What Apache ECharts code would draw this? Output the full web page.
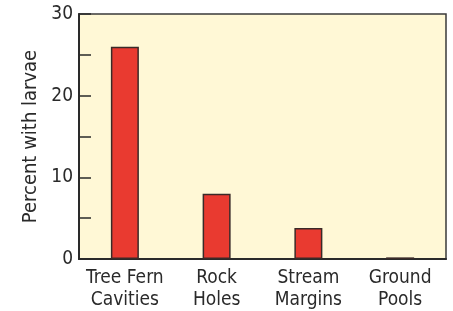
<!DOCTYPE html>
<html>
<head>
<meta charset="utf-8">
<script src="https://cdn.jsdelivr.net/npm/echarts@6/dist/echarts.min.js"></script>
<style>
  html, body { margin: 0; padding: 0; background: #fff; }
  #chart { width: 453px; height: 311px; }
</style>
</head>
<body>
<div id="chart"></div>
<script>
const categories = ['Tree Fern\nCavities', 'Rock\nHoles', 'Stream\nMargins', 'Ground\nPools'];
const percentWithLarvae = [26, 8, 3.8, 0.2];
const yTicks = [0, 10, 20, 30];

const font = '"DejaVu Sans Condensed", "Liberation Sans Narrow", sans-serif';

const chart = echarts.init(document.getElementById('chart'));

const option = {
  animation: false,
  grid: {
    left: 79,
    right: 7,
    top: 14,
    bottom: 52,
    show: true,
    backgroundColor: '#fff8d6',
    borderColor: '#3a3a3a',
    borderWidth: 1.5
  },
  xAxis: {
    type: 'category',
    data: categories,
    axisLine: { lineStyle: { color: '#2a2a2a', width: 2 } },
    axisTick: { show: false },
    axisLabel: {
      interval: 0,
      color: '#2a2a2a',
      fontFamily: font,
      fontSize: 19,
      lineHeight: 22,
      margin: 8
    }
  },
  yAxis: {
    type: 'value',
    min: 0,
    max: 30,
    interval: 5,
    name: 'Percent with larvae',
    nameLocation: 'middle',
    nameGap: 36,
    nameTextStyle: { color: '#2a2a2a', fontFamily: font, fontSize: 20 },
    axisLine: { show: true, lineStyle: { color: '#2a2a2a', width: 2 } },
    axisTick: { show: true, inside: true, length: 12, lineStyle: { color: '#2a2a2a', width: 1.5 } },
    splitLine: { show: false },
    axisLabel: {
      color: '#2a2a2a',
      fontFamily: font,
      fontSize: 19,
      margin: 6,
      formatter: v => (yTicks.includes(v) ? String(v) : '')
    }
  },
  series: [
    {
      type: 'bar',
      data: percentWithLarvae,
      barWidth: 28,
      itemStyle: {
        color: '#e93a30',
        borderColor: '#3a2a28',
        borderWidth: 1.5
      }
    }
  ]
};

chart.setOption(option);
</script>
</body>
</html>
